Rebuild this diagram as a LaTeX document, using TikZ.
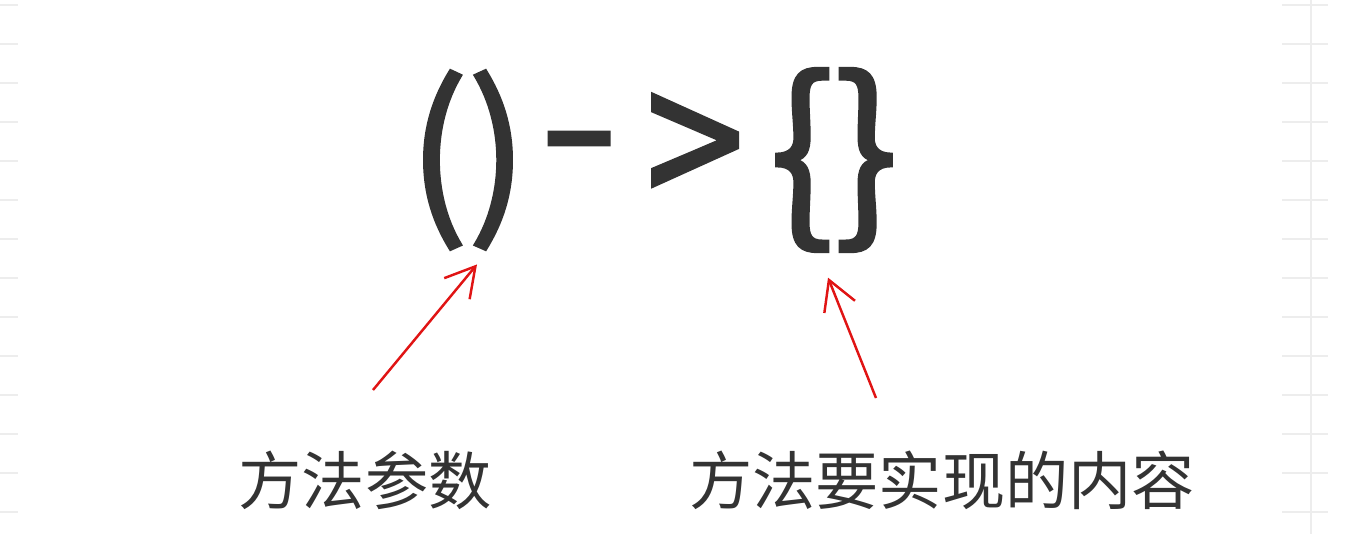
\documentclass[tikz,border=0pt]{standalone}
\usepackage{fontspec}
\setmainfont{Noto Sans CJK SC}
\newfontfamily\glyphfont[FakeBold=2]{Noto Sans CJK SC}
\usepackage{xcolor}
\usetikzlibrary{positioning, arrows.meta}
\definecolor{inkgray}{HTML}{333333}
\definecolor{penred}{HTML}{E01414}
\tikzset{
    glyph/.style={inner sep=0pt, text=inkgray, font=\glyphfont\fontsize{100}{100}\selectfont},
    caption/.style={inner sep=0pt, text=inkgray, font=\fontsize{36}{36}\selectfont},
    pointer/.style={-{Straight Barb[length=0.58cm, width=0.66cm]}, penred, line width=1.4pt},
    gridline/.style={black!7, line width=0.6pt}
}

\begin{document}
\begin{tikzpicture}[x=0.02cm, y=-0.02cm]
    \useasboundingbox (0,0) rectangle (1364,534);

    % faint sheet grid
    \foreach \y in {5,44,...,514} {
        \draw[gridline] (0,\y) -- (18,\y);
        \draw[gridline] (1282,\y) -- (1328,\y);
    }
    \draw[gridline] (1311,0) -- (1311,534);

    % Expression
    \node[glyph] (params) at (468,160) {()};
    \node[glyph, xscale=1.3] (dash) at (579,160) {-};
    \node[glyph, yscale=1.15] (gt) at (695,155) {>};
    \node[glyph, scale=1.08] (body) at (834,160) {\{\}};

    % Labels
    \node[caption] (paramsText) at (365,480) {方法参数};
    \node[caption] (bodyText) at (942,480) {方法要实现的内容};

    % Pointers
    \coordinate (paramsFrom) at (373,390);
    \coordinate (bodyFrom) at (876,398);
    \draw[pointer] (paramsFrom) -- ([shift={(9,15)}]params.south);
    \draw[pointer] (bodyFrom) -- ([shift={(-6,26)}]body.south);
\end{tikzpicture}
\end{document}
